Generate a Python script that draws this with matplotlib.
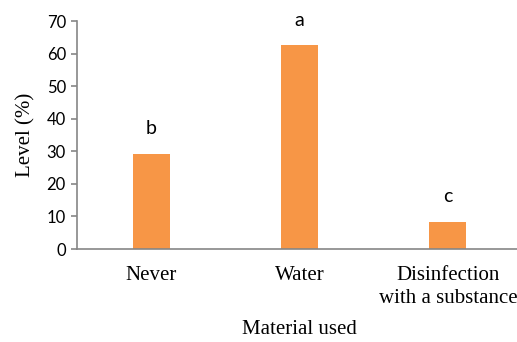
import matplotlib
matplotlib.use("Agg")
import matplotlib.pyplot as plt

categories = ["Never", "Water", "Disinfection\nwith a substance"]
values = [29.2, 62.5, 8.3]
letters = ["b", "a", "c"]
yticks = [0, 10, 20, 30, 40, 50, 60, 70]

W, H = 517, 342
fig = plt.figure(figsize=(W / 100, H / 100), dpi=100)
ax = fig.add_axes([77 / W, 1 - 249 / H, (522 - 77) / W, (249 - 21) / H])

x = list(range(len(categories)))
ax.bar(x, values, width=0.25, color="#F79646", zorder=2)
ax.set_xlim(-0.5, 2.5)
ax.set_ylim(0, 70)
ax.set_yticks(yticks)
ax.set_yticklabels([str(v) for v in yticks], fontfamily="Lato", fontsize=12)
ax.set_xticks(x)
ax.set_xticklabels(categories, fontfamily="Liberation Serif", fontsize=15, linespacing=1.3)

for xi, v, l in zip(x, values, letters):
    ax.annotate(l, (xi, v), xytext=(0, 18), textcoords="offset points",
                ha="center", va="center", fontfamily="Lato", fontsize=14)

for s in ["top", "right"]:
    ax.spines[s].set_visible(False)
for s in ["left", "bottom"]:
    ax.spines[s].set_color("#868686")
    ax.spines[s].set_linewidth(1.2)
ax.tick_params(axis="y", length=4, color="#868686", width=1.2, pad=4)
ax.tick_params(axis="x", length=0, pad=12)

ax.set_ylabel("Level (%)", fontfamily="Liberation Serif", fontsize=15, labelpad=8)
ax.set_xlabel("Material used", fontfamily="Liberation Serif", fontsize=15)
ax.xaxis.set_label_coords((299.5 - 77) / (522 - 77), -(320 - 249) / (249 - 21))

fig.savefig("out.png", dpi=100)
